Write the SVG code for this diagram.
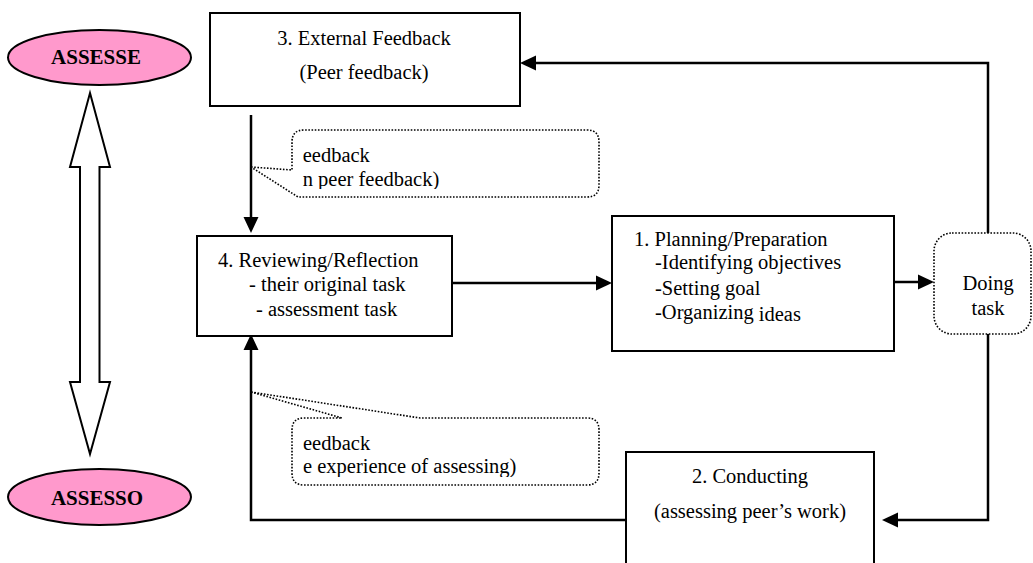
<svg xmlns="http://www.w3.org/2000/svg" width="1033" height="563" viewBox="0 0 1033 563">
  <style>
    .box { fill: #ffffff; stroke: #000000; stroke-width: 2; }
    .ell { fill: #ff99cc; stroke: #000000; stroke-width: 2; }
    .dot { fill: #ffffff; stroke: #000000; stroke-width: 1.6; stroke-dasharray: 1.6 1.6; }
    .conn { fill: none; stroke: #000000; stroke-width: 2.5; marker-end: url(#arrow); }
    text { font-family: 'Liberation Serif', 'DejaVu Serif', serif; fill: #000000; }
    .t { font-size: 20.5px; }
    .tb { font-size: 21px; font-weight: bold; }
    .mid { text-anchor: middle; }
  </style>
  <defs>
    <marker id="arrow" viewBox="0 0 16 16" markerWidth="16" markerHeight="16" refX="0" refY="8" orient="auto" markerUnits="userSpaceOnUse">
      <path d="M0,0.5 L16,8 L0,15.5 Z" fill="#000000"/>
    </marker>
    <clipPath id="clip1"><rect x="300" y="135" width="295" height="54"/></clipPath>
    <clipPath id="clip2"><rect x="300" y="424" width="295" height="53"/></clipPath>
  </defs>

  <rect width="1033" height="563" fill="#ffffff"/>

  <g id="connectors">
    <path class="conn" d="M251,115 V217"/>
    <path class="conn" d="M452,283 H596"/>
    <path class="conn" d="M894,282 H918"/>
    <path class="conn" d="M988,233 V63 H536"/>
    <path class="conn" d="M988,334 V520 H898"/>
    <path class="conn" d="M626,520 H251 V350"/>
  </g>

  <g id="role-arrow">
    <polygon points="90,93 110,167 99.5,167 99.5,382 110,382 90,454 70,382 80,382 80,167 70,167" fill="#ffffff" stroke="#000000" stroke-width="2" stroke-linejoin="miter"/>
  </g>

  <g id="assesse">
    <ellipse class="ell" cx="99.5" cy="57.5" rx="91.5" ry="27.5"/>
    <text class="tb mid" x="96" y="64" font-family="Liberation Serif, serif">ASSESSE</text>
  </g>

  <g id="assesso">
    <ellipse class="ell" cx="99.5" cy="497" rx="91.5" ry="28"/>
    <text class="tb mid" x="97" y="505" font-family="Liberation Serif, serif">ASSESSO</text>
  </g>

  <g id="external-feedback" font-family="Liberation Serif, serif">
    <rect class="box" x="210" y="13" width="310" height="93"/>
    <text class="t mid" x="364" y="45">3. External Feedback</text>
    <text class="t mid" x="364" y="79">(Peer feedback)</text>
  </g>

  <g id="callout-peer">
    <path class="dot" d="M251,167 L292,170 V142 Q292,130 304,130 H587 Q599,130 599,142 V185 Q599,197 587,197 H298 Z"/>
    <g clip-path="url(#clip1)">
      <text class="t" x="302.7" y="162">eedback</text>
      <text class="t" x="302.7" y="186">n peer feedback)</text>
    </g>
  </g>

  <g id="reviewing">
    <rect class="box" x="197" y="236" width="255" height="100"/>
    <text class="t" x="218" y="267">4. Reviewing/Reflection</text>
    <text class="t" x="249" y="291">- their original task</text>
    <text class="t" x="256" y="316">- assessment task</text>
  </g>

  <g id="planning">
    <rect class="box" x="612" y="216" width="282" height="135"/>
    <text class="t" x="634" y="246">1. Planning/Preparation</text>
    <text class="t" x="655" y="269">-Identifying objectives</text>
    <text class="t" x="655" y="295">-Setting goal</text>
    <text class="t" x="655" y="319">-Organizing <tspan dy="2">ideas</tspan></text>
  </g>

  <g id="doing-task">
    <rect class="dot" x="934" y="233" width="97" height="101" rx="18" ry="18"/>
    <text class="t mid" x="988" y="290">Doing</text>
    <text class="t mid" x="988" y="315">task</text>
  </g>

  <g id="callout-assessing">
    <path class="dot" d="M251,392 L342,418 H304 Q292,418 292,430 V473 Q292,485 304,485 H587 Q599,485 599,473 V430 Q599,418 587,418 H420 Z"/>
    <g clip-path="url(#clip2)">
      <text class="t" x="303" y="450">eedback</text>
      <text class="t" x="303" y="473">e experience of assessing)</text>
    </g>
  </g>

  <g id="conducting">
    <rect class="box" x="626" y="452" width="248" height="130"/>
    <text class="t mid" x="750" y="483">2. Conducting</text>
    <text class="t mid" x="750" y="518">(assessing peer’s work)</text>
  </g>
</svg>
